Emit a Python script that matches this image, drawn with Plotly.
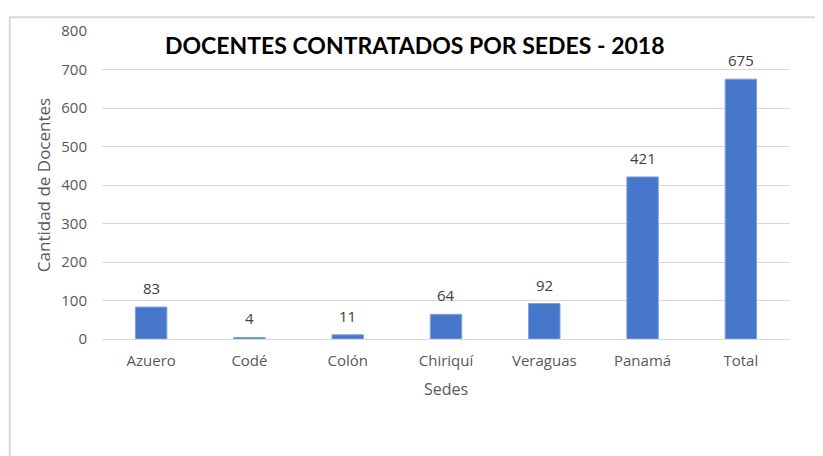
import plotly.graph_objects as go

# datos
sedes = ["Azuero", "Codé", "Colón", "Chiriquí", "Veraguas", "Panamá", "Total"]
docentes = [83, 4, 11, 64, 92, 421, 675]
y_ticks = [0, 100, 200, 300, 400, 500, 600, 700, 800]

fig = go.Figure()
fig.add_trace(go.Bar(
    x=sedes, y=docentes,
    marker=dict(color="#4677CA", line=dict(color="#7FA2DC", width=1)),
))

# etiquetas de valor encima de cada barra
for s, v in zip(sedes, docentes):
    fig.add_annotation(x=s, y=v, text=str(v), showarrow=False,
                       yanchor="bottom", yshift=7,
                       font=dict(family="Open Sans", size=15, color="#404040"))

fig.add_annotation(
    text="<b>DOCENTES CONTRATADOS POR SEDES - 2018</b>",
    x=0.455, y=0.955, xref="paper", yref="paper",
    xanchor="center", yanchor="middle", showarrow=False,
    font=dict(family="Lato", size=23, color="black"),
)

fig.update_layout(
    width=815, height=448,
    margin=dict(l=94, r=33, t=13, b=117),
    paper_bgcolor="white", plot_bgcolor="white",
    bargap=0.68,
    showlegend=False,
    font=dict(family="Open Sans", color="#595959"),
    shapes=[dict(
        type="rect", xref="paper", yref="paper",
        x0=-0.134, x1=1.2, y0=-0.6, y1=1.045,
        line=dict(color="#d9d9d9", width=2), layer="below",
    )],
)
fig.update_yaxes(
    range=[0, 800], tickvals=y_ticks,
    showgrid=True, gridcolor="#d9d9d9", gridwidth=1,
    zeroline=False, showline=False,
    tickfont=dict(size=15, color="#595959"), ticklabelstandoff=14,
    title=dict(text="Cantidad de Docentes", font=dict(size=17, color="#595959"), standoff=6),
)
fig.update_xaxes(
    showline=True, linecolor="#d9d9d9", linewidth=1,
    tickfont=dict(size=15, color="#595959"), ticklabelstandoff=8,
    title=dict(text="Sedes", font=dict(size=16, color="#595959"), standoff=14),
)

fig.write_html("out.html")
